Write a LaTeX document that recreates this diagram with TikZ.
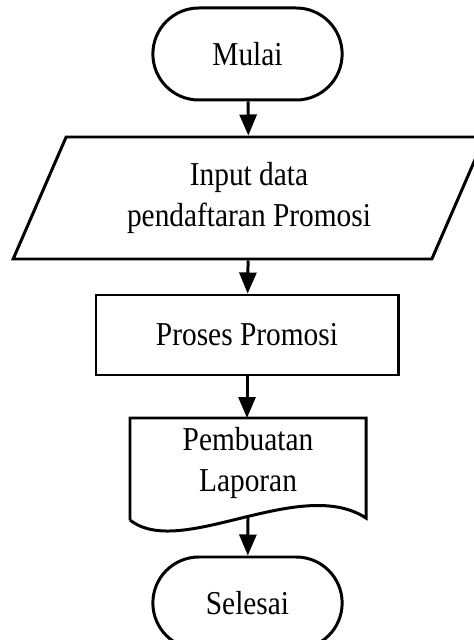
\documentclass[tikz,border=0pt]{standalone}
\usepackage{fontspec}
\setmainfont{Liberation Serif}[FakeStretch=0.88]
\usepackage{tikz}
\usetikzlibrary{positioning,arrows.meta,shapes.geometric,shapes.misc,calc}

\begin{document}
\begin{tikzpicture}[
  line width=1.7pt,
  terminal/.style={draw, rounded rectangle, minimum width=4.02cm, minimum height=1.84cm, align=center},
  inputbox/.style={draw, trapezium, trapezium left angle=65.7, trapezium right angle=114.3,
    trapezium stretches=true, minimum width=9.44cm, minimum height=2.44cm, align=center},
  procbox/.style={draw, rectangle, minimum width=6.04cm, minimum height=1.6cm, align=center},
  docbox/.style={rectangle, minimum width=4.72cm, minimum height=1.6cm, align=center},
  flow/.style={-{Triangle[width=0.34cm, length=0.42cm]}},
  font=\fontsize{19pt}{22.8pt}\selectfont
]
  \useasboundingbox (0,0) rectangle (9.48,-12.8);

  % Nodes (top to bottom)
  \node[terminal] (mulai) at (4.95,-1.08) {Mulai};
  \node[inputbox] (input) at (4.98,-3.96) {Input data\\pendaftaran Promosi};
  \node[procbox]  (proses) at (4.94,-6.70) {Proses Promosi};
  \node[docbox]   (lap) at (4.96,-9.26) {Pembuatan\\Laporan};
  \node[terminal] (selesai) at (4.95,-12.06) {Selesai};

  % Document outline with wavy bottom
  \draw ($(lap.center)+(-2.36,-1.14)$) -- ($(lap.center)+(-2.36,0.90)$)
    -- ($(lap.center)+(2.36,0.90)$) -- ($(lap.center)+(2.36,-1.10)$)
    .. controls (6.0,-9.5) and (3.6,-11.2) .. ($(lap.center)+(-2.36,-1.14)$);
  \coordinate (lapbot) at (4.96,-10.36);

  % Connectors
  \draw[flow] (mulai) -- (input);
  \draw[flow] (input) -- (proses);
  \draw[flow] (proses.south) -- (proses.south |- 0,-8.36);
  \draw[flow] (lapbot) -- (selesai);
\end{tikzpicture}
\end{document}
